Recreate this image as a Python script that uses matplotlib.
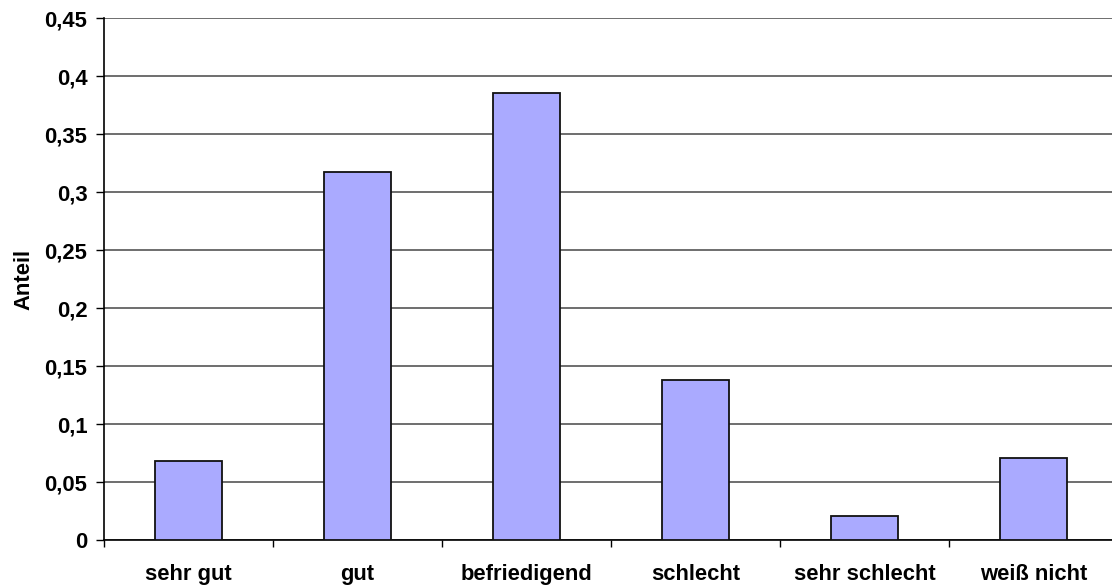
import matplotlib
matplotlib.use("Agg")
import matplotlib.pyplot as plt
from matplotlib.ticker import FuncFormatter

categories = ["sehr gut", "gut", "befriedigend", "schlecht", "sehr schlecht", "weiß nicht"]
values = [0.068, 0.317, 0.3855, 0.138, 0.0207, 0.0704]
yticks = [0, 0.05, 0.1, 0.15, 0.2, 0.25, 0.3, 0.35, 0.4, 0.45]

plt.rcParams["font.family"] = ["Liberation Sans", "DejaVu Sans"]
FS = 15.8

fig = plt.figure(figsize=(11.12, 5.85), dpi=100)
W, H = 1112, 585
left, right, top, bottom = 104, 1118, 18, 540
ax = fig.add_axes([left / W, 1 - bottom / H, (right - left) / W, (bottom - top) / H])

x = list(range(len(categories)))
ax.bar(x, values, width=0.4, color="#aaaaff", edgecolor="#111111", linewidth=1.3, zorder=3)

ax.set_xlim(-0.5, len(categories) - 0.5)
ax.set_ylim(0, 0.45)
ax.set_yticks(yticks)
ax.yaxis.set_major_formatter(FuncFormatter(lambda v, p: ("%g" % round(v, 2)).replace(".", ",")))
ax.grid(axis="y", color="#555555", linewidth=1.2, zorder=0)

ax.set_xticks([i + 0.5 for i in range(-1, len(categories))], minor=False)
ax.set_xticklabels([])
ax.set_xticks(x, minor=True)
ax.set_xticklabels(categories, minor=True)
ax.tick_params(axis="x", which="minor", length=0, pad=17, labelsize=FS)
ax.tick_params(axis="x", which="major", length=5, width=1, direction="out", color="black")
ax.tick_params(axis="y", length=6, width=1, direction="out", labelsize=FS, pad=6)
for lbl in ax.get_xticklabels(minor=True) + ax.get_yticklabels():
    lbl.set_fontweight("bold")

for s in ["top", "right"]:
    ax.spines[s].set_visible(False)
ax.spines["left"].set_color("black")
ax.spines["bottom"].set_color("black")
ax.spines["left"].set_linewidth(1.2)
ax.spines["bottom"].set_linewidth(1.2)

ax.set_ylabel("Anteil", fontsize=FS, fontweight="bold", labelpad=7)

fig.savefig("out.png", dpi=100)
